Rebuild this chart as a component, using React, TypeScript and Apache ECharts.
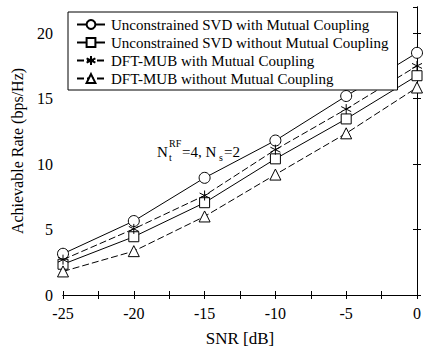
import React, { useEffect, useRef } from "react";
import * as echarts from "echarts";

const snr = [-25, -20, -15, -10, -5, 0];
const svdMC = [3.15, 5.65, 8.95, 11.8, 15.2, 18.5];
const svdNoMC = [2.35, 4.45, 7.05, 10.4, 13.45, 16.75];
const mubMC = [2.7, 5.05, 7.6, 11.1, 14.2, 17.5];
const mubNoMC = [1.8, 3.35, 6.0, 9.2, 12.35, 15.85];
const seriesNames = [
  "Unconstrained SVD with Mutual Coupling",
  "Unconstrained SVD without Mutual Coupling",
  "DFT-MUB with Mutual Coupling",
  "DFT-MUB without Mutual Coupling",
];

const FONT = "'Liberation Serif', 'Times New Roman', serif";
const asterisk = "path://M5,0L5,10M0.7,2.5L9.3,7.5M0.7,7.5L9.3,2.5";

export default function App() {
  const ref = useRef<HTMLDivElement>(null);
  useEffect(() => {
    const chart = echarts.init(ref.current!, null, { renderer: "svg" });
    const mk = (name: string, vals: number[], symbol: string, dashed: boolean, size: number) => ({
      name,
      type: "line",
      data: snr.map((x, i) => [x, vals[i]]),
      symbol,
      symbolSize: size,
      showAllSymbol: true,
      itemStyle: { color: symbol === asterisk ? "none" : "#fff", borderColor: "#000", borderWidth: 1 },
      lineStyle: { color: "#000", width: 1, type: dashed ? [7, 3] : "solid" },
      emphasis: { disabled: true },
    });
    chart.setOption({
      animation: false,
      textStyle: { fontFamily: FONT },
      grid: { left: 63, right: 4, top: 7, bottom: 49 },
      legend: {
        orient: "vertical",
        left: 68,
        top: 12,
        padding: [5, 9, 4, 8],
        itemGap: 3,
        itemWidth: 28,
        itemHeight: 11,
        borderColor: "#000",
        borderWidth: 1,
        backgroundColor: "#fff",
        textStyle: { fontFamily: FONT, fontSize: 15, color: "#000", padding: [0, 0, 0, 1] },
        data: seriesNames,
      },
      xAxis: [
        {
          type: "value",
          min: -25,
          max: 0,
          interval: 2.5,
          name: "SNR [dB]",
          nameLocation: "middle",
          nameGap: 35,
          nameTextStyle: { fontFamily: FONT, fontSize: 17, color: "#000" },
          axisLine: { lineStyle: { color: "#000", width: 1 } },
          axisTick: { inside: true, length: 4, lineStyle: { color: "#000" } },
          axisLabel: {
            fontFamily: FONT,
            fontSize: 16,
            color: "#000",
            margin: 10,
            formatter: (v: number) => (Math.abs(v % 5) < 1e-9 ? String(v) : ""),
          },
          splitLine: { show: false },
        },
        {
          type: "value",
          position: "top",
          min: -25,
          max: 0,
          interval: 2.5,
          axisLine: { lineStyle: { color: "#000", width: 1 } },
          axisTick: { inside: true, length: 4, lineStyle: { color: "#000" } },
          axisLabel: { show: false },
          splitLine: { show: false },
        },
      ],
      yAxis: [
        {
          type: "value",
          min: 0,
          max: 22,
          interval: 5,
          name: "Achievable Rate (bps/Hz)",
          nameLocation: "middle",
          nameGap: 38,
          nameTextStyle: { fontFamily: FONT, fontSize: 16, color: "#000" },
          axisLine: { show: true, lineStyle: { color: "#000", width: 1 } },
          axisTick: { show: true, inside: true, length: 4, lineStyle: { color: "#000" } },
          axisLabel: { fontFamily: FONT, fontSize: 16, color: "#000", margin: 10, showMaxLabel: false },
          splitLine: { show: false },
        },
        {
          type: "value",
          position: "right",
          min: 0,
          max: 22,
          interval: 5,
          axisLine: { show: true, lineStyle: { color: "#000", width: 1 } },
          axisTick: { show: true, inside: true, length: 4, lineStyle: { color: "#000" } },
          axisLabel: { show: false },
          splitLine: { show: false },
        },
      ],
      graphic: [
        { type: "text", left: 157, top: 144, style: { text: "N", font: `15px ${FONT}`, fill: "#000" } },
        { type: "text", left: 169, top: 138, style: { text: "RF", font: `10px ${FONT}`, fill: "#000" } },
        { type: "text", left: 169, top: 152, style: { text: "t", font: `10px ${FONT}`, fill: "#000" } },
        { type: "text", left: 182, top: 144, style: { text: "=4, N", font: `15px ${FONT}`, fill: "#000" } },
        { type: "text", left: 219, top: 152, style: { text: "s", font: `10px ${FONT}`, fill: "#000" } },
        { type: "text", left: 224, top: 144, style: { text: "=2", font: `15px ${FONT}`, fill: "#000" } },
      ],
      series: [
        mk(seriesNames[0], svdMC, "circle", false, 11),
        mk(seriesNames[1], svdNoMC, "rect", false, 10),
        mk(seriesNames[2], mubMC, asterisk, true, 10),
        mk(seriesNames[3], mubNoMC, "triangle", true, 11),
      ],
    });
    return () => chart.dispose();
  }, []);
  return <div ref={ref} style={{ width: 424, height: 352, position: "absolute", left: 0, top: 0, background: "#fff" }} />;
}
